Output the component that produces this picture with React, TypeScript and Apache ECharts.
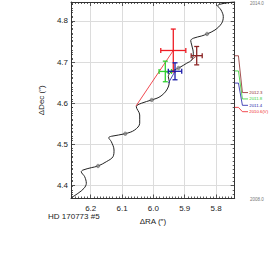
import React, { useEffect, useRef } from "react";
import * as echarts from "echarts";

// Model track (ΔRA, ΔDec) from 2008.0 to 2014.0
const trackRA = [6.2619, 6.2405, 6.2214, 6.214, 6.2192, 6.23, 6.2246, 6.1981, 6.1767, 6.1502, 6.1288, 6.1256, 6.1342, 6.1425, 6.1342, 6.0896, 6.0596, 6.0436, 6.0436, 6.0545, 6.0385, 6.0053, 5.9788, 5.9574, 5.9491, 5.9523, 5.9469, 5.9373, 5.915, 5.8936, 5.8776, 5.8725, 5.8776, 5.8808, 5.8725, 5.8457, 5.8288, 5.8033, 5.7819, 5.7768, 5.7841, 5.7946, 5.7873, 5.7608, 5.7417];
const trackDec = [4.3709, 4.3816, 4.3937, 4.4059, 4.4219, 4.434, 4.4381, 4.4438, 4.4479, 4.4583, 4.4705, 4.4867, 4.5069, 4.5166, 4.52, 4.5263, 4.5353, 4.5516, 4.5717, 4.5919, 4.6001, 4.6082, 4.6162, 4.6324, 4.6526, 4.6647, 4.6745, 4.6793, 4.6876, 4.6973, 4.7053, 4.7216, 4.7417, 4.7522, 4.758, 4.7636, 4.7684, 4.7781, 4.7944, 4.8104, 4.8267, 4.8372, 4.8406, 4.8444, 4.8469];

// Yearly markers on the track (2009 .. 2013)
const yearDotRA = [6.1767, 6.0896, 6.0053, 5.9198, 5.8288];
const yearDotDec = [4.4479, 4.5263, 4.6082, 4.6859, 4.7684];

// Observations
const epochNames = ["2010.6(V)", "2011.8", "2011.4", "2012.3"];
const epochYears = [2010.6, 2011.8, 2011.4, 2012.3];
const obsRA = [5.9364, 5.9619, 5.9309, 5.8617];
const obsDec = [4.7283, 4.6774, 4.6778, 4.7157];
const obsRAErr = [0.04, 0.0198, 0.0214, 0.0176];
const obsDecErr = [0.052, 0.025, 0.0206, 0.0223];
const modelRA = [6.0553, 5.9485, 5.9522, 5.8776];
const modelDec = [4.5937, 4.6716, 4.6487, 4.7053];
const epochColors = ["#ee1c24", "#2fd12f", "#1c1ca8", "#8b2525"];
const labelOrder = [0, 2, 1, 3]; // slot index from bottom for each epoch

// Axis ranges
const raMin = 5.7404;
const raMax = 6.2629;
const decMin = 4.369;
const decMax = 4.846;
const timeMin = 2007.6;
const timeMax = 2014.07;
const timeEndLabels = ["2014.0", "2008.0"];

const FONT = "Liberation Sans";

export default function App() {
  const ref = useRef<HTMLDivElement>(null);
  useEffect(() => {
    if (!ref.current) return;
    const chart = echarts.init(ref.current, undefined, { renderer: "svg" });
    const gridRect = { left: 71, top: 2, width: 163.7, height: 196.5 };
    const frameColor = "#333";
    const gridColor = "#dcdcdc";

    const tickCommon = (labels: boolean, margin: number) => ({
      splitNumber: 5,
      axisLine: { show: true, onZero: false, lineStyle: { color: frameColor, width: 1 } },
      axisTick: { show: true, inside: true, length: 4, lineStyle: { color: frameColor, width: 0.8 } },
      minorTick: { show: true, splitNumber: 10, length: 2, lineStyle: { color: frameColor, width: 0.8 } },
      minorSplitLine: { show: false },
      axisLabel: {
        show: labels,
        margin,
        fontSize: 8,
        fontFamily: FONT,
        color: "#222",
        showMinLabel: false,
        showMaxLabel: false,
        formatter: (v: number) => v.toFixed(1),
      },
      splitLine: { show: labels, lineStyle: { color: gridColor, width: 1 } },
    });

    const mkX = (pos: string, labels: boolean) => ({
      type: "value",
      gridIndex: 0,
      position: pos,
      min: raMin,
      max: raMax,
      inverse: true,
      ...tickCommon(labels, 6),
      ...(labels
        ? { name: "ΔRA (″)", nameLocation: "middle", nameGap: 12, nameTextStyle: { fontSize: 8, fontFamily: FONT, color: "#222" } }
        : {}),
    });
    const mkY = (pos: string, labels: boolean) => ({
      type: "value",
      gridIndex: 0,
      position: pos,
      min: decMin,
      max: decMax,
      ...tickCommon(labels, 3),
      ...(labels
        ? { name: "ΔDec (″)", nameLocation: "middle", nameGap: 14, nameTextStyle: { fontSize: 8, fontFamily: FONT, color: "#222" } }
        : {}),
    });

    const labelBase = 2010.458;
    const labelStep = 0.21;

    const errData = obsRA.map((ra, i) => [ra, obsDec[i], obsRAErr[i], obsDecErr[i]]);

    const series: any[] = [];
    series.push({
      type: "line",
      xAxisIndex: 0,
      yAxisIndex: 0,
      data: trackRA.map((ra, i) => [ra, trackDec[i]]),
      smooth: 0.35,
      symbol: "none",
      lineStyle: { color: "#222", width: 1 },
      z: 2,
    });
    series.push({
      type: "scatter",
      xAxisIndex: 0,
      yAxisIndex: 0,
      data: yearDotRA.map((ra, i) => [ra, yearDotDec[i]]),
      symbolSize: 3.5,
      itemStyle: { color: "#8a8a8a", borderColor: "#444", borderWidth: 0.5 },
      z: 3,
    });
    epochNames.forEach((n, i) => {
      series.push({
        type: "line",
        xAxisIndex: 0,
        yAxisIndex: 0,
        data: [
          [modelRA[i], modelDec[i]],
          [obsRA[i], obsDec[i]],
        ],
        symbol: "none",
        lineStyle: { color: epochColors[i], width: 0.8 },
        z: 4,
      });
    });
    series.push({
      type: "custom",
      xAxisIndex: 0,
      yAxisIndex: 0,
      data: errData,
      z: 5,
      renderItem: (params: any, api: any) => {
        const x = api.value(0);
        const y = api.value(1);
        const ex = api.value(2);
        const ey = api.value(3);
        const l = api.coord([x - ex, y]);
        const r = api.coord([x + ex, y]);
        const t = api.coord([x, y + ey]);
        const b = api.coord([x, y - ey]);
        const cap = 2.5;
        const style = { stroke: epochColors[params.dataIndex], lineWidth: 1.3 };
        const ln = (x1: number, y1: number, x2: number, y2: number) => ({
          type: "line",
          shape: { x1, y1, x2, y2 },
          style,
        });
        return {
          type: "group",
          children: [
            ln(l[0], l[1], r[0], r[1]),
            ln(t[0], t[1], b[0], b[1]),
            ln(l[0], l[1] - cap, l[0], l[1] + cap),
            ln(r[0], r[1] - cap, r[0], r[1] + cap),
            ln(t[0] - cap, t[1], t[0] + cap, t[1]),
            ln(b[0] - cap, b[1], b[0] + cap, b[1]),
          ],
        };
      },
    });
    // Epoch markers on the time scale
    epochNames.forEach((n, i) => {
      const slot = labelBase + labelOrder[i] * labelStep;
      series.push({
        type: "line",
        xAxisIndex: 3,
        yAxisIndex: 3,
        name: n,
        data: [
          [0, epochYears[i]],
          [0.28, epochYears[i]],
          [0.58, slot],
          [1, slot],
        ],
        symbol: "none",
        lineStyle: { color: epochColors[i], width: 0.8 },
        endLabel: {
          show: true,
          formatter: n,
          fontSize: 4.3,
          fontFamily: FONT,
          color: epochColors[i],
          distance: 1.3,
        },
      });
    });

    chart.setOption({
      animation: false,
      grid: [
        { ...gridRect },
        { ...gridRect },
        { left: 234.7, top: 2, width: 13.3, height: 196.5 },
      ],
      xAxis: [
        mkX("bottom", true),
        mkX("top", false),
        { type: "value", gridIndex: 1, show: false, min: 0, max: 1 },
        { type: "value", gridIndex: 2, show: false, min: 0, max: 1 },
      ],
      yAxis: [
        mkY("left", true),
        mkY("right", false),
        {
          type: "value",
          gridIndex: 1,
          position: "right",
          min: timeMin,
          max: timeMax,
          interval: 0.2,
          axisLine: { show: false },
          axisTick: { show: true, inside: false, length: 2, lineStyle: { color: frameColor, width: 0.8 } },
          axisLabel: { show: false },
          splitLine: { show: false },
        },
        { type: "value", gridIndex: 2, show: false, min: timeMin, max: timeMax },
      ],
      graphic: [
        {
          type: "text",
          left: 250,
          top: 1,
          style: { text: timeEndLabels[0], fontSize: 4.5, fontFamily: FONT, fill: "#777" },
        },
        {
          type: "text",
          left: 250,
          top: 197,
          style: { text: timeEndLabels[1], fontSize: 4.5, fontFamily: FONT, fill: "#777" },
        },
        {
          type: "text",
          left: 48,
          top: 212,
          style: { text: "HD 170773 #5", fontSize: 8, fontFamily: FONT, fill: "#222" },
        },
      ],
      series,
    });
    return () => chart.dispose();
  }, []);
  return (
    <div
      ref={ref}
      style={{ position: "fixed", left: 0, top: 0, width: 277, height: 262, background: "#fff" }}
    />
  );
}
